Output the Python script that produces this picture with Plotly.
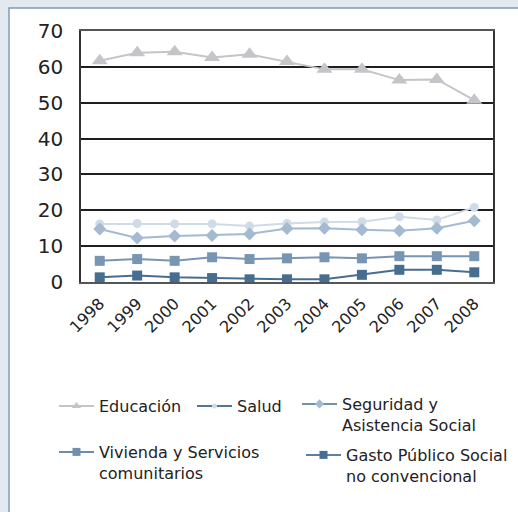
import plotly.graph_objects as go

years = ["1998", "1999", "2000", "2001", "2002", "2003", "2004", "2005", "2006", "2007", "2008"]
educacion = [61.7, 63.9, 64.2, 62.6, 63.5, 61.5, 59.3, 59.3, 56.3, 56.5, 50.7]
salud = [16.2, 16.3, 16.2, 16.2, 15.6, 16.3, 16.7, 16.8, 18.2, 17.3, 20.8]
seguridad = [14.8, 12.3, 12.8, 13.0, 13.4, 14.9, 15.0, 14.6, 14.3, 15.0, 17.1]
vivienda = [5.9, 6.4, 5.9, 6.9, 6.4, 6.6, 6.9, 6.6, 7.2, 7.2, 7.2]
gasto = [1.3, 1.8, 1.3, 1.1, 0.75, 0.75, 0.75, 2.0, 3.4, 3.4, 2.7]

names = ["Educación", "Salud", "Seguridad y<br>Asistencia Social",
         "Vivienda y Servicios<br>comunitarios", "Gasto Público Social<br>no convencional"]
series = [educacion, salud, seguridad, vivienda, gasto]
line_colors = ["#c3c5c8", "#cfdbe7", "#a3bad1", "#7895b3", "#466e91"]
marker_colors = line_colors
symbols = ["triangle-up", "circle", "diamond", "square", "square"]
sizes = [14, 9, 10, 10, 10]
leg_line_colors = ["#c3c5c8", "#4f7597", "#6f90b0", "#6b8cae", "#5b80a3"]
leg_marker_colors = ["#c3c5c8", "#cfdbe7", "#a3bad1", "#7190b0", "#466e91"]
leg_sizes = [8, 5, 7, 8, 8]

W, H = 518, 512
L, R, T, B = 81, 25, 31, 230
pw, ph = W - L - R, H - T - B

def px(x):
    return (x - L) / pw

def py(y):
    return (H - B - y) / ph

fig = go.Figure()
for s, name, lc, mc, sym, sz in zip(series, names, line_colors, marker_colors, symbols, sizes):
    fig.add_trace(go.Scatter(x=years, y=s, mode="lines+markers", name=name,
                             line=dict(color=lc, width=2),
                             marker=dict(symbol=sym, size=sz, color=mc),
                             showlegend=False))

legend_ids = ["legend", "legend2", "legend3", "legend4", "legend5"]
for name, lc, mc, sym, sz, lid in zip(names, leg_line_colors, leg_marker_colors, symbols, leg_sizes, legend_ids):
    fig.add_trace(go.Scatter(x=[None], y=[None], mode="lines+markers", name=name,
                             line=dict(color=lc, width=2),
                             marker=dict(symbol=sym, size=sz, color=mc),
                             showlegend=True, legend=lid))

leg_font = dict(family="DejaVu Sans", size=16, color="#222")
# (text left x, first-line centre y) of each legend entry
leg_pos = [(100, 405), (238, 405), (343, 403), (100, 451), (347, 454)]
leg_common = dict(font=leg_font, bgcolor="rgba(0,0,0,0)", borderwidth=0,
                  xanchor="left", yanchor="top", valign="top", itemwidth=35,
                  tracegroupgap=0)
legends = {}
for lid, (lx, ly) in zip(legend_ids, leg_pos):
    legends[lid] = dict(x=px(lx - 46), y=py(ly - 16), **leg_common)

fig.update_layout(
    width=W, height=H,
    margin=dict(l=L, r=R, t=T, b=B, autoexpand=False),
    paper_bgcolor="#e3e9f1",
    plot_bgcolor="white",
    font=dict(family="DejaVu Sans", color="#222"),
    shapes=[dict(type="rect", xref="paper", yref="paper", layer="below",
                 x0=px(9), x1=px(560), y0=py(560), y1=py(8),
                 fillcolor="white", line=dict(color="#7f9bb8", width=1.5))],
    xaxis=dict(type="category", range=[-0.5, 10.5], tickangle=-45,
               tickfont=dict(size=16, family="DejaVu Sans", color="#222"),
               showgrid=False, showline=True, mirror=True,
               linecolor="#555", linewidth=2, ticks="", ticklabelstandoff=4,
               automargin=False, fixedrange=True),
    yaxis=dict(range=[0, 70], dtick=10, tick0=0,
               tickfont=dict(size=20, family="DejaVu Sans", color="#222"),
               showgrid=True, gridcolor="#1e1e1e", gridwidth=1.5,
               showline=True, mirror=True, linecolor="#333", linewidth=1.5,
               zeroline=False, ticks="", ticklabelstandoff=12,
               automargin=False, fixedrange=True),
    hovermode=False,
    **legends,
)

fig.write_html("out.html", config={"displayModeBar": False},
               post_script="document.body.style.margin='0';")
